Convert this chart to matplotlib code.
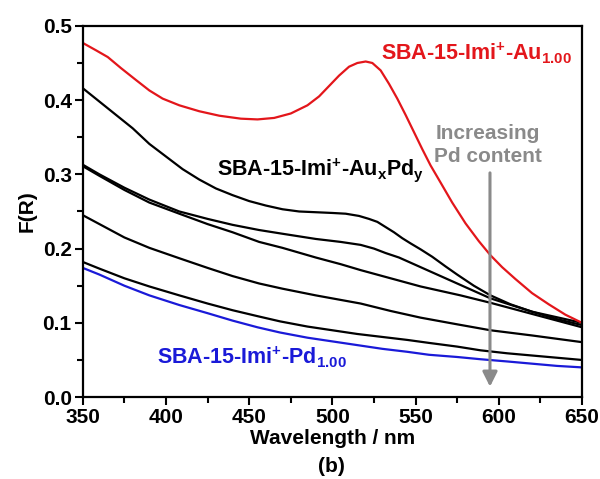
import matplotlib
matplotlib.use('Agg')
import matplotlib.pyplot as plt

# values (wavelength in nm, F(R))
wl_au = [350, 358, 365, 373, 382, 390, 398, 408, 420, 432, 445, 455, 465, 475,
         485, 492, 498, 504, 510, 515, 520, 524, 529, 534, 539, 544, 549, 554,
         559, 565, 572, 580, 588, 595, 602, 610, 620, 630, 640, 650]
f_au = [0.477, 0.467, 0.458, 0.443, 0.427, 0.413, 0.402, 0.393, 0.385, 0.379,
        0.375, 0.374, 0.376, 0.382, 0.393, 0.405, 0.419, 0.433, 0.445, 0.450,
        0.452, 0.450, 0.440, 0.422, 0.402, 0.380, 0.357, 0.334, 0.312, 0.289,
        0.262, 0.234, 0.210, 0.191, 0.175, 0.159, 0.140, 0.125, 0.111, 0.100]

wl_1 = [350, 360, 370, 380, 390, 400, 410, 420, 430, 440, 450, 460, 470, 480,
        490, 500, 508, 516, 522, 527, 532, 537, 542, 547, 553, 560, 568, 575,
        585, 595, 607, 620, 635, 650]
f_1 = [0.416, 0.398, 0.380, 0.362, 0.341, 0.324, 0.307, 0.293, 0.281, 0.272,
       0.264, 0.258, 0.253, 0.250, 0.249, 0.248, 0.247, 0.244, 0.240, 0.236,
       0.229, 0.222, 0.214, 0.207, 0.199, 0.189, 0.176, 0.165, 0.150, 0.137,
       0.125, 0.115, 0.105, 0.097]

wl_2 = [350, 360, 375, 390, 408, 425, 440, 456, 470, 490, 505, 517, 525, 532,
        540, 547, 553, 565, 577, 595, 620, 650]
f_2 = [0.313, 0.300, 0.282, 0.266, 0.250, 0.240, 0.232, 0.225, 0.220, 0.213,
       0.209, 0.205, 0.200, 0.194, 0.188, 0.181, 0.175, 0.163, 0.151, 0.133,
       0.115, 0.100]

wl_3 = [350, 360, 375, 390, 408, 425, 440, 456, 470, 490, 505, 517, 535, 553,
        577, 595, 620, 650]
f_3 = [0.311, 0.298, 0.279, 0.262, 0.247, 0.233, 0.222, 0.209, 0.201, 0.188,
       0.179, 0.171, 0.160, 0.149, 0.137, 0.127, 0.112, 0.094]

wl_4 = [350, 360, 375, 390, 408, 425, 440, 456, 470, 490, 517, 535, 553, 575,
        595, 620, 650]
f_4 = [0.245, 0.233, 0.215, 0.201, 0.187, 0.174, 0.163, 0.153, 0.146, 0.137,
       0.126, 0.116, 0.107, 0.098, 0.090, 0.083, 0.074]

wl_5 = [350, 360, 375, 390, 408, 425, 440, 455, 468.5, 485, 500, 515, 530, 545,
        558, 575, 589, 605, 620, 635, 650]
f_5 = [0.182, 0.173, 0.160, 0.149, 0.137, 0.126, 0.117, 0.109, 0.102, 0.095,
       0.090, 0.085, 0.081, 0.077, 0.073, 0.068, 0.063, 0.059, 0.056, 0.053, 0.050]

wl_pd = [350, 360, 375, 390, 408, 425, 440, 455, 468.5, 485, 500, 515, 530, 545,
         558, 575, 589, 605, 620, 635, 650]
f_pd = [0.174, 0.165, 0.150, 0.137, 0.124, 0.113, 0.103, 0.094, 0.087, 0.080,
        0.075, 0.070, 0.065, 0.061, 0.057, 0.054, 0.051, 0.048, 0.045, 0.042, 0.040]

RED = '#e3161b'
BLUE = '#1a1ad8'
GREY = '#8a8a8a'


def main():
    plt.rcParams['font.family'] = ['Liberation Sans', 'DejaVu Sans']
    plt.rcParams['font.weight'] = 'bold'
    plt.rcParams['mathtext.fontset'] = 'custom'
    plt.rcParams['mathtext.rm'] = 'Liberation Sans:bold'
    plt.rcParams['mathtext.bf'] = 'Liberation Sans:bold'
    plt.rcParams['mathtext.it'] = 'Liberation Sans:bold'

    fig = plt.figure(figsize=(6.0, 4.79), dpi=100)
    ax = fig.add_axes([0.138, 0.171, 0.832, 0.775])

    for wl, f in [(wl_1, f_1), (wl_2, f_2), (wl_3, f_3), (wl_4, f_4), (wl_5, f_5)]:
        ax.plot(wl, f, color='black', lw=1.6)
    ax.plot(wl_pd, f_pd, color=BLUE, lw=1.6)
    ax.plot(wl_au, f_au, color=RED, lw=1.6)

    ax.set_xlim(350, 650)
    ax.set_ylim(0, 0.5)
    ax.set_xticks(range(350, 651, 50))
    ax.set_xticks(range(375, 651, 50), minor=True)
    ax.set_yticks([0.0, 0.1, 0.2, 0.3, 0.4, 0.5])
    ax.set_yticks([0.05, 0.15, 0.25, 0.35, 0.45], minor=True)
    ax.set_yticklabels(['0.0', '0.1', '0.2', '0.3', '0.4', '0.5'])
    ax.tick_params(which='major', direction='out', length=6, width=1.5,
                   labelsize=15, pad=2)
    ax.tick_params(which='minor', direction='out', length=4, width=1.5)
    for s in ax.spines.values():
        s.set_linewidth(1.6)

    ax.set_xlabel('Wavelength / nm', fontsize=15, fontweight='bold', labelpad=1)
    ax.set_ylabel('F(R)', fontsize=15, fontweight='bold', labelpad=4)
    fig.text(0.553, 0.027, '(b)', fontsize=15, fontweight='bold',
             ha='center', va='center')

    ax.text(529.5, 0.463, r'SBA-15-Imi$^{+}$-Au$_{1.00}$', color=RED,
            fontsize=15.5, fontweight='bold', va='center')
    ax.text(430.5, 0.306, r'SBA-15-Imi$^{+}$-Au$_{x}$Pd$_{y}$', color='black',
            fontsize=15.5, fontweight='bold', va='center')
    ax.text(394.3, 0.054, r'SBA-15-Imi$^{+}$-Pd$_{1.00}$', color=BLUE,
            fontsize=15.5, fontweight='bold', va='center')
    ax.text(593.5, 0.340, 'Increasing\nPd content', color=GREY, fontsize=15,
            fontweight='bold', ha='center', va='center', linespacing=1.25)

    ax.annotate('', xy=(594.7, 0.014), xytext=(594.7, 0.302),
                arrowprops=dict(arrowstyle='-|>', color=GREY, lw=2.2,
                                mutation_scale=22, shrinkA=0, shrinkB=0))

    fig.savefig('out.png', dpi=100)


if __name__ == "__main__":
    main()
